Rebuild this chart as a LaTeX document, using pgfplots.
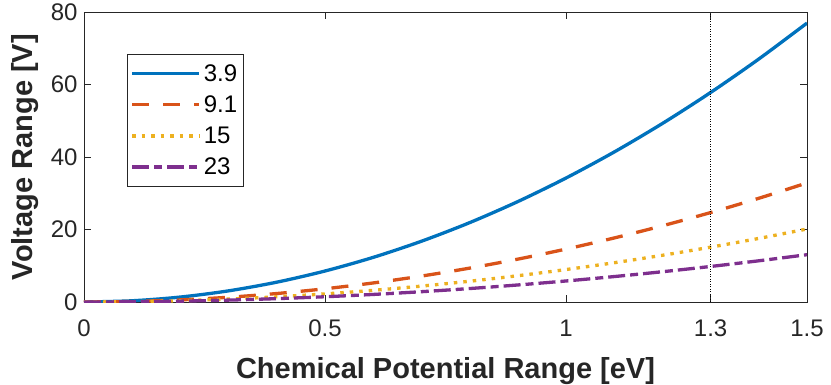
\documentclass[border=0pt]{standalone}
\usepackage{fontspec}
\setmainfont{Liberation Sans}
\usepackage{pgfplots}
\pgfplotsset{compat=1.18}

\definecolor{mblue}{rgb}{0,0.447,0.741}
\definecolor{morange}{rgb}{0.85,0.325,0.098}
\definecolor{myellow}{rgb}{0.929,0.694,0.125}
\definecolor{mpurple}{rgb}{0.494,0.184,0.556}
\definecolor{axgray}{rgb}{0.15,0.15,0.15}

\begin{document}
\begin{tikzpicture}
\path[use as bounding box] (-84bp,-83bp) rectangle (747bp,302bp);
\begin{axis}[
    at={(0,0)}, anchor=south west,
    scale only axis,
    width=723bp, height=290bp,
    xmin=0, xmax=1.5,
    ymin=0, ymax=80,
    xtick={0,0.5,1,1.3,1.5},
    xticklabels={0,0.5,1,1.3,1.5},
    ytick={0,20,40,60,80},
    tick align=inside,
    major tick length=7bp,
    axis line style={color=axgray, line width=0.7bp},
    tick style={color=axgray, line width=0.7bp},
    ticklabel style={font=\fontsize{24bp}{28bp}\selectfont, text=axgray},
    /pgf/number format/assume math mode=true,
    xticklabel style={yshift=-14bp},
    yticklabel style={xshift=-3bp},
    xlabel={\textbf{Chemical Potential Range [eV]}},
    ylabel={\textbf{Voltage Range [V]}},
    label style={font=\fontsize{29bp}{33bp}\selectfont, text=axgray},
    xlabel style={at={(axis description cs:0.5,0)}, anchor=base, yshift=-76bp},
    ylabel style={at={(axis description cs:0,0.5)}, anchor=base, yshift=51bp},
    legend style={
        at={(0.059,0.855)}, anchor=north west,
        draw=axgray, line width=0.7bp,
        font=\fontsize{24bp}{28bp}\selectfont,
        inner sep=3.5bp,
        row sep=0bp,
        nodes={inner ysep=6.5bp, inner xsep=3bp},
    },
    legend cell align=left,
    legend image code/.code={\draw[#1] (0bp,0bp) -- (67bp,0bp);},
]
\addplot[mblue, line width=3.3bp, smooth] coordinates {
    (0,0) (0.1,0.342) (0.2,1.368) (0.3,3.078) (0.4,5.472) (0.5,8.55)
    (0.6,12.312) (0.7,16.758) (0.8,21.888) (0.9,27.702) (1.0,34.2)
    (1.1,41.382) (1.2,49.248) (1.3,57.798) (1.4,67.032) (1.5,76.95)
};
\addplot[morange, line width=3.3bp, dash pattern=on 17bp off 14bp, smooth] coordinates {
    (0,0) (0.1,0.146) (0.2,0.584) (0.3,1.314) (0.4,2.336) (0.5,3.65)
    (0.6,5.256) (0.7,7.154) (0.8,9.344) (0.9,11.826) (1.0,14.6)
    (1.1,17.666) (1.2,21.024) (1.3,24.674) (1.4,28.616) (1.5,32.85)
};
\addplot[myellow, line width=3.3bp, dash pattern=on 3.5bp off 6bp, smooth] coordinates {
    (0,0) (0.1,0.0895) (0.2,0.358) (0.3,0.8055) (0.4,1.432) (0.5,2.2375)
    (0.6,3.222) (0.7,4.3855) (0.8,5.728) (0.9,7.2495) (1.0,8.95)
    (1.1,10.83) (1.2,12.888) (1.3,15.126) (1.4,17.542) (1.5,20.14)
};
\addplot[mpurple, line width=3.3bp, dash pattern=on 17bp off 5bp on 8bp off 5bp, smooth] coordinates {
    (0,0) (0.1,0.058) (0.2,0.232) (0.3,0.522) (0.4,0.928) (0.5,1.45)
    (0.6,2.088) (0.7,2.842) (0.8,3.712) (0.9,4.698) (1.0,5.8)
    (1.1,7.018) (1.2,8.352) (1.3,9.802) (1.4,11.368) (1.5,13.05)
};
\addplot[black, line width=0.6bp, dash pattern=on 1bp off 1.5bp, forget plot] coordinates {(1.3,0) (1.3,80)};
\legend{3.9, 9.1, 15, 23}
\end{axis}
\end{tikzpicture}
\end{document}
